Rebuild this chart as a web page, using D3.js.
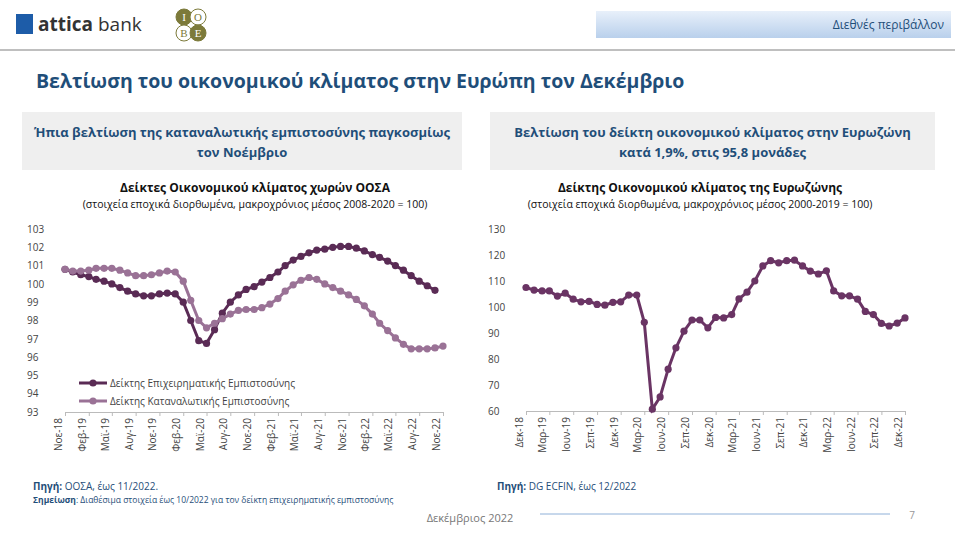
<!DOCTYPE html>
<html><head><meta charset="utf-8">
<script src="https://cdn.jsdelivr.net/npm/d3@7"></script>
<style>body{margin:0;background:#fff;font-family:"Open Sans",sans-serif}</style>
</head><body><div id="c"></div>
<script>
// Αριστερό γράφημα: Νοε-18 .. Νοε-22
const leftStart = new Date(2018, 10, 1);
const business = [100.8,100.65,100.5,100.4,100.25,100.15,100.0,99.8,99.6,99.45,99.35,99.35,99.45,99.5,99.45,99.0,98.0,96.9,96.75,97.5,98.4,99.0,99.4,99.7,99.85,100.1,100.35,100.65,101.0,101.3,101.5,101.7,101.85,101.9,102.0,102.05,102.05,101.95,101.8,101.6,101.45,101.25,101.0,100.75,100.45,100.15,99.9,99.65];
const consumer = [100.8,100.7,100.7,100.75,100.85,100.85,100.85,100.75,100.6,100.45,100.45,100.5,100.6,100.7,100.65,100.15,99.1,98.0,97.6,97.85,98.1,98.35,98.55,98.6,98.6,98.7,98.9,99.2,99.6,99.95,100.2,100.35,100.25,100.0,99.8,99.6,99.4,99.15,98.8,98.35,97.85,97.45,97.05,96.7,96.45,96.45,96.45,96.5,96.6];
// Δεξί γράφημα: Δεκ-18 .. Δεκ-22
const rightStart = new Date(2018, 11, 1);
const esi = [107.5,106.5,106.2,106.2,104.2,105.3,103.0,102.0,102.2,101.0,100.7,101.8,102.0,104.6,104.6,94.1,60.7,65.4,76.1,84.3,90.7,95.0,95.0,92.0,96.0,95.8,97.1,103.1,105.7,110.0,115.8,117.8,117.0,117.8,118.0,115.8,113.8,112.7,113.9,106.2,104.3,104.3,103.0,98.3,97.1,93.7,92.7,93.8,95.8];
const months = ["Ιαν","Φεβ","Μαρ","Απρ","Μαϊ","Ιουν","Ιουλ","Αυγ","Σεπ","Οκτ","Νοε","Δεκ"];
const leftTicks = d3.range(93, 104);
const rightTicks = d3.range(60, 131, 10);

const W = 960, H = 540;
const svg = d3.select("#c").append("svg").attr("width", W).attr("height", H);
const blue = "#1f4e79";

// Κεφαλίδα
svg.append("rect").attr("x",16).attr("y",14).attr("width",17).attr("height",20).attr("fill","#1d5ca8");
svg.append("text").attr("x",38).attr("y",31).attr("font-size",19).attr("fill","#333")
  .html('<tspan font-weight="bold">attica</tspan> bank');
[[184,17,"#7c7a3a","I"],[198,17,"#fff","O"],[184,33,"#fff","B"],[198,33,"#7c7a3a","E"]].forEach(([x,y,f,t])=>{
  svg.append("circle").attr("cx",x).attr("cy",y).attr("r",8).attr("fill",f).attr("stroke","#7c7a3a");
  svg.append("text").attr("x",x).attr("y",y+4).attr("text-anchor","middle").attr("font-size",11)
    .attr("font-family","Liberation Serif").attr("fill",f==="#fff"?"#7c7a3a":"#fff").text(t);
});
const g = svg.append("defs").append("linearGradient").attr("id","hg").attr("x1",0).attr("x2",0).attr("y1",0).attr("y2",1);
g.append("stop").attr("offset",0).attr("stop-color","#e8f0fa");
g.append("stop").attr("offset",1).attr("stop-color","#b9d0ec");
svg.append("rect").attr("x",596).attr("y",11).attr("width",355).attr("height",27).attr("fill","url(#hg)");
svg.append("text").attr("x",944).attr("y",29).attr("text-anchor","end").attr("font-size",12).attr("fill",blue).text("Διεθνές περιβάλλον");
svg.append("line").attr("x1",0).attr("x2",955).attr("y1",50).attr("y2",50).attr("stroke","#aaa").attr("stroke-width",1.5);
svg.append("text").attr("x",36).attr("y",88).attr("font-size",19.5).attr("font-weight","bold").attr("fill",blue)
  .text("Βελτίωση του οικονομικού κλίματος στην Ευρώπη τον Δεκέμβριο");

// Πλαίσια υποτίτλων
[[22,440,"Ήπια βελτίωση της καταναλωτικής εμπιστοσύνης παγκοσμίως","τον Νοέμβριο"],
 [490,445,"Βελτίωση του δείκτη οικονομικού κλίματος στην Ευρωζώνη","κατά 1,9%, στις 95,8 μονάδες"]].forEach(([x,w,a,b])=>{
  svg.append("rect").attr("x",x).attr("y",112).attr("width",w).attr("height",58).attr("fill","#efefef");
  svg.append("text").attr("x",x+w/2).attr("y",137).attr("text-anchor","middle").attr("font-size",13).attr("font-weight","bold").attr("fill",blue).text(a);
  svg.append("text").attr("x",x+w/2).attr("y",157).attr("text-anchor","middle").attr("font-size",13).attr("font-weight","bold").attr("fill",blue).text(b);
});

function chart(cx, title, sub, x0, x1, yTop, yBot, domain, ticks, series, start, nMonths) {
  svg.append("text").attr("x",cx).attr("y",192).attr("text-anchor","middle").attr("font-size",12).attr("font-weight","bold").attr("fill","#111").text(title);
  svg.append("text").attr("x",cx).attr("y",208).attr("text-anchor","middle").attr("font-size",10.5).attr("fill","#111").text(sub);
  const x = d3.scaleTime().domain([start, d3.timeMonth.offset(start, nMonths)]).range([x0, x1]);
  const y = d3.scaleLinear().domain(domain).range([yBot, yTop]);
  const tickDates = d3.range(0, nMonths + 1, 3).map(i => d3.timeMonth.offset(start, i));
  const ax = svg.append("g").attr("transform",`translate(0,${yBot})`)
    .call(d3.axisBottom(x).tickValues(tickDates).tickSize(0).tickFormat(""));
  ax.select(".domain").attr("stroke","#bbb");
  const lbl = svg.append("g").attr("transform",`translate(0,${yBot})`)
    .call(d3.axisBottom(x).tickValues(tickDates).tickSize(4)
      .tickFormat(d => months[d.getMonth()] + "-" + String(d.getFullYear()).slice(2)));
  lbl.select(".domain").remove();
  lbl.selectAll("line").attr("stroke","#bbb");
  lbl.selectAll("text").attr("transform","rotate(-90)").attr("text-anchor","end").attr("dx","-6").attr("dy","-0.35em").attr("y",0).attr("x",0)
    .attr("font-size",10).attr("font-family","Open Sans").attr("fill","#444");
  const ay = svg.append("g").attr("transform",`translate(${x0 - 4},0)`).call(d3.axisLeft(y).tickValues(ticks).tickSize(0).tickPadding(6));
  ay.select(".domain").remove();
  ay.selectAll("text").attr("font-size",10).attr("font-family","Open Sans").attr("fill","#444").attr("text-anchor","start").attr("x",-34);
  series.forEach(s => {
    const pts = s.values.map((v, i) => [x(d3.timeMonth.offset(start, i)), y(v)]);
    svg.append("path").attr("d", d3.line()(pts)).attr("fill","none").attr("stroke",s.color).attr("stroke-width",3);
    svg.append("g").selectAll("circle").data(pts).join("circle").attr("cx",d=>d[0]).attr("cy",d=>d[1]).attr("r",3.6).attr("fill",s.color);
  });
}

chart(255, "Δείκτες Οικονομικού κλίματος χωρών ΟΟΣΑ", "(στοιχεία εποχικά διορθωμένα, μακροχρόνιος μέσος 2008-2020 = 100)",
  65, 443, 229, 412, [93, 103], leftTicks,
  [{values: business, color: "#5a2b55"}, {values: consumer, color: "#9a7296"}], leftStart, 48);
chart(700, "Δείκτης Οικονομικού κλίματος της Ευρωζώνης", "(στοιχεία εποχικά διορθωμένα, μακροχρόνιος μέσος 2000-2019 = 100)",
  526, 905, 229, 411, [60, 130], rightTicks,
  [{values: esi, color: "#6a3464"}], rightStart, 48);

// Υπόμνημα
[["Δείκτης Επιχειρηματικής Εμπιστοσύνης","#5a2b55",383],["Δείκτης Καταναλωτικής Εμπιστοσύνης","#9a7296",401]].forEach(([t,c,yy])=>{
  svg.append("line").attr("x1",79).attr("x2",107).attr("y1",yy).attr("y2",yy).attr("stroke",c).attr("stroke-width",3);
  svg.append("circle").attr("cx",93).attr("cy",yy).attr("r",3.6).attr("fill",c);
  svg.append("text").attr("x",110).attr("y",yy+3.5).attr("font-size",10).attr("fill","#444").text(t);
});

// Πηγές
svg.append("text").attr("x",33).attr("y",490).attr("font-size",10).attr("fill",blue)
  .html('<tspan font-weight="bold">Πηγή:</tspan> ΟΟΣΑ, έως 11/2022.');
svg.append("text").attr("x",33).attr("y",503).attr("font-size",8.5).attr("fill",blue)
  .html('<tspan font-weight="bold">Σημείωση</tspan>: Διαθέσιμα στοιχεία έως 10/2022 για τον δείκτη επιχειρηματικής εμπιστοσύνης');
svg.append("text").attr("x",497).attr("y",490).attr("font-size",10).attr("fill",blue)
  .html('<tspan font-weight="bold">Πηγή:</tspan> DG ECFIN, έως 12/2022');
svg.append("line").attr("x1",540).attr("x2",890).attr("y1",514).attr("y2",514).attr("stroke","#8fb0d8");
svg.append("text").attr("x",470).attr("y",522).attr("text-anchor","middle").attr("font-size",11).attr("fill","#777").text("Δεκέμβριος 2022");
svg.append("text").attr("x",912).attr("y",519).attr("text-anchor","middle").attr("font-size",10).attr("fill","#999").text("7");
</script></body></html>
